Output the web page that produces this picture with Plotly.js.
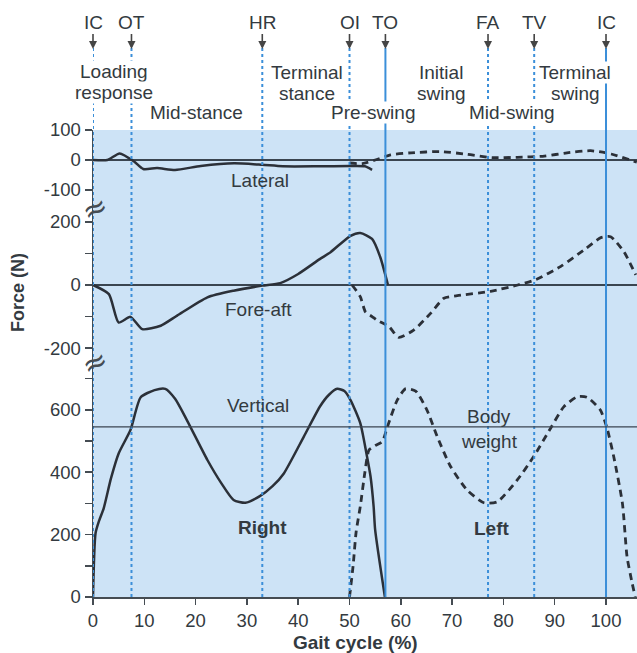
<!DOCTYPE html>
<html><head><meta charset="utf-8">
<script src="https://cdn.plot.ly/plotly-3.0.1.min.js"></script>
<style>html,body{margin:0;padding:0;background:#fff}#chart{width:637px;height:653px}</style>
</head><body><div id="chart"></div>
<script>
// ---- data ----
const lateralRightX = [0, 2.8, 5.2, 8, 9.8, 12.5, 16, 21, 27.5, 33, 37, 44, 50, 53, 54.4];
const lateralRightY = [0, 0, 22, -5, -30, -27, -33, -20, -11, -16, -21, -21, -20, -21, -33];
const lateralLeftX = [50, 52.5, 55, 58, 62, 67.7, 73, 77.8, 82.7, 88, 92.4, 97, 101, 106];
const lateralLeftY = [-10, -12, 0, 17, 24, 28, 19, 8, 9, 13, 24, 31, 20, -7];

const foreAftRightX = [0, 3.1, 5, 7.3, 9.6, 13.2, 16.4, 22.3, 27.4, 33, 36.5, 40, 44.2, 46.3, 50.2, 52.1, 54.4, 56, 57.5];
const foreAftRightY = [0, -29, -119, -101, -140, -129, -97, -39, -18, -2, 6, 35, 82, 104, 156, 165, 146, 88, 0];
const foreAftLeftX = [50.5, 52.1, 53.1, 54.4, 55.3, 57.7, 59.6, 62.5, 65.8, 68.4, 71, 77.5, 82.8, 86.3, 91.2, 95.7, 99, 100.9, 103.5, 105.8];
const foreAftLeftY = [0, -37, -85, -100, -111, -132, -166, -143, -90, -42, -34, -20, 0, 17, 59, 111, 150, 153, 105, 32];

const verticalRightX = [0, 0.5, 1.2, 2.1, 3.5, 5, 7.3, 9.3, 12, 14.1, 16, 18.3, 22.3, 25, 27.4, 29.7, 32.6, 35, 37.2, 41.1, 44.3, 46, 47.6, 49, 50.2, 52.1, 53.3, 54.1, 54.7, 55, 56.9];
const verticalRightY = [0, 205, 245, 285, 380, 460, 535, 640, 663, 667, 635, 567, 439, 365, 311, 302, 324, 355, 396, 514, 612, 648, 667, 660, 631, 557, 460, 386, 290, 215, 0];
const verticalLeftX = [50, 50.7, 51.3, 52.1, 53, 53.8, 55, 56.4, 57.3, 59.3, 60.9, 62.9, 65.1, 67.1, 69.7, 72.9, 76.2, 78.8, 82.7, 85.9, 89.2, 91.8, 94.4, 96.3, 98.9, 100.2, 101.5, 103.2, 104.1, 105.1, 105.7];
const verticalLeftY = [0, 100, 210, 290, 400, 471, 485, 498, 541, 631, 667, 660, 599, 514, 418, 343, 302, 305, 375, 450, 541, 610, 642, 640, 599, 541, 450, 300, 129, 44, 0];

const bodyWeight = 545;
const eventNames = ['IC', 'OT', 'HR', 'OI', 'TO', 'FA', 'TV', 'IC'];
const eventPct = [0, 7.5, 33, 50, 57, 77, 86, 100];

const xTicks = [0, 10, 20, 30, 40, 50, 60, 70, 80, 90, 100];
const lateralTicks = [-100, 0, 100];
const lateralTickText = ['-100', '0', '100'];
const foreAftTicks = [-200, -100, 0, 100, 200];
const foreAftTickText = ['-200', '', '0', '', '200'];
const verticalTicks = [0, 100, 200, 300, 400, 500, 600, 700];
const verticalTickText = ['0', '', '200', '', '400', '', '600', ''];

// ---- styling ----
const FONT = 'Liberation Sans, Arial, Helvetica, sans-serif';
const TXT = '#333a40';
const CURVE = '#2b3038';
const BLUE = '#3b8fd9';
const AXC = '#454c52';

function trace(x, y, yaxis, dashed) {
  return {x: x, y: y, yaxis: yaxis, xaxis: 'x', type: 'scatter', mode: 'lines',
    line: {color: CURVE, width: dashed ? 2.8 : 2.5, dash: dashed ? '7px,5px' : 'solid', shape: 'spline', smoothing: 0.6},
    hoverinfo: 'skip', showlegend: false};
}
const data = [
  trace(lateralRightX, lateralRightY, 'y3', false),
  trace(lateralLeftX, lateralLeftY, 'y3', true),
  trace(foreAftRightX, foreAftRightY, 'y2', false),
  trace(foreAftLeftX, foreAftLeftY, 'y2', true),
  trace(verticalRightX, verticalRightY, 'y', false),
  trace(verticalLeftX, verticalLeftY, 'y', true)
];

const H = 653, T = 130, B = 56;
const plotH = H - T - B;
const pyToPaper = py => (H - B - py) / plotH;

function yax(domain, range, tv, tt, zl) {
  return {domain: domain, range: range, anchor: 'x', tickvals: tv, ticktext: tt,
    ticks: 'outside', ticklen: 7, tickwidth: 1.5, tickcolor: AXC,
    showline: true, linecolor: AXC, linewidth: 1.5, showgrid: false,
    zeroline: zl, zerolinecolor: '#3a4550', zerolinewidth: 1.3,
    tickfont: {family: FONT, size: 18.5, color: TXT}, fixedrange: true};
}

const shapes = [];
eventPct.forEach((p, i) => {
  const solid = (eventNames[i] === 'TO') || (i === eventPct.length - 1);
  shapes.push({type: 'line', xref: 'x', yref: 'paper', x0: p, x1: p, y0: 0, y1: pyToPaper(48),
    line: {color: BLUE, width: 2, dash: solid ? 'solid' : 'dot'}, layer: 'above'});
});
shapes.push({type: 'line', xref: 'paper', yref: 'y', x0: 0, x1: 1, y0: bodyWeight, y1: bodyWeight,
  line: {color: '#3a4550', width: 1.3}, layer: 'above'});

const annotations = [];
eventNames.forEach((n, i) => {
  annotations.push({x: eventPct[i], xref: 'x', y: pyToPaper(49), yref: 'paper', text: n,
    showarrow: true, ax: 0, ay: -27, arrowhead: 2, arrowsize: 1, arrowwidth: 1.6, arrowcolor: '#454545',
    font: {family: FONT, size: 19, color: TXT}});
});
function lab(text, x, py) {
  annotations.push({x: x, xref: 'x', y: pyToPaper(py), yref: 'paper', text: text,
    showarrow: false, xanchor: 'center', yanchor: 'middle', bgcolor: '#ffffff', borderpad: 0,
    font: {family: FONT, size: 19, color: TXT}});
}
lab('Loading', 4.1, 72); lab('response', 4.1, 92);
lab('Mid-stance', 20.2, 113);
lab('Terminal', 41.7, 73); lab('stance', 41.7, 93);
lab('Pre-swing', 54.6, 113);
lab('Initial', 67.9, 73); lab('swing', 67.9, 93);
lab('Mid-swing', 81.7, 113);
lab('Terminal', 94, 73); lab('swing', 94, 93);

function inplot(text, x, y, yref, bold) {
  annotations.push({x: x, y: y, xref: 'x', yref: yref, text: bold ? '<b>' + text + '</b>' : text, showarrow: false,
    xanchor: 'center', yanchor: 'middle', font: {family: FONT, size: 19, color: TXT}});
}
inplot('Lateral', 32.6, -67, 'y3');
inplot('Fore-aft', 32.2, -79, 'y2');
inplot('Vertical', 32.2, 615, 'y');
inplot('Body', 77.2, 578, 'y');
inplot('weight', 77.2, 498, 'y');
inplot('Right', 33, 224, 'y', true);
inplot('Left', 77.8, 218, 'y', true);

// axis break marks
[208, 362].forEach(py => {
  annotations.push({x: 0, xref: 'paper', y: pyToPaper(py), yref: 'paper', text: '≈', showarrow: false,
    textangle: -25, font: {family: 'DejaVu Sans, sans-serif', size: 30, color: '#454c52'},
    xanchor: 'center', yanchor: 'middle', xshift: 1});
});
// axis titles
annotations.push({x: (18 - 93) / 544, xref: 'paper', y: pyToPaper(293), yref: 'paper', text: '<b>Force (N)</b>',
  textangle: -90, showarrow: false, xanchor: 'center', yanchor: 'middle',
  font: {family: FONT, size: 18, color: TXT}});
annotations.push({x: (355 - 93) / 544, xref: 'paper', y: pyToPaper(642), yref: 'paper', text: '<b>Gait cycle (%)</b>',
  showarrow: false, xanchor: 'center', yanchor: 'middle', font: {family: FONT, size: 19, color: TXT}});

const layout = {
  width: 637, height: 653,
  margin: {l: 93, r: 0, t: T, b: B, pad: 0},
  paper_bgcolor: '#ffffff', plot_bgcolor: '#cde3f6',
  showlegend: false,
  xaxis: {range: [0, 106.04], tickvals: xTicks, ticks: 'outside', ticklen: 6, tickwidth: 1.5, tickcolor: AXC,
    showline: true, linecolor: AXC, linewidth: 1.5, showgrid: false, zeroline: false, anchor: 'y',
    tickfont: {family: FONT, size: 18.5, color: TXT}, fixedrange: true},
  yaxis: yax([0, 235 / 467], [0, 753], verticalTicks, verticalTickText, false),
  yaxis2: yax([235 / 467, 389 / 467], [-244, 244], foreAftTicks, foreAftTickText, true),
  yaxis3: yax([389 / 467, 1], [-160, 100], lateralTicks, lateralTickText, true),
  shapes: shapes,
  annotations: annotations
};
Plotly.newPlot('chart', data, layout, {displayModeBar: false, staticPlot: true});
</script>
</body></html>
